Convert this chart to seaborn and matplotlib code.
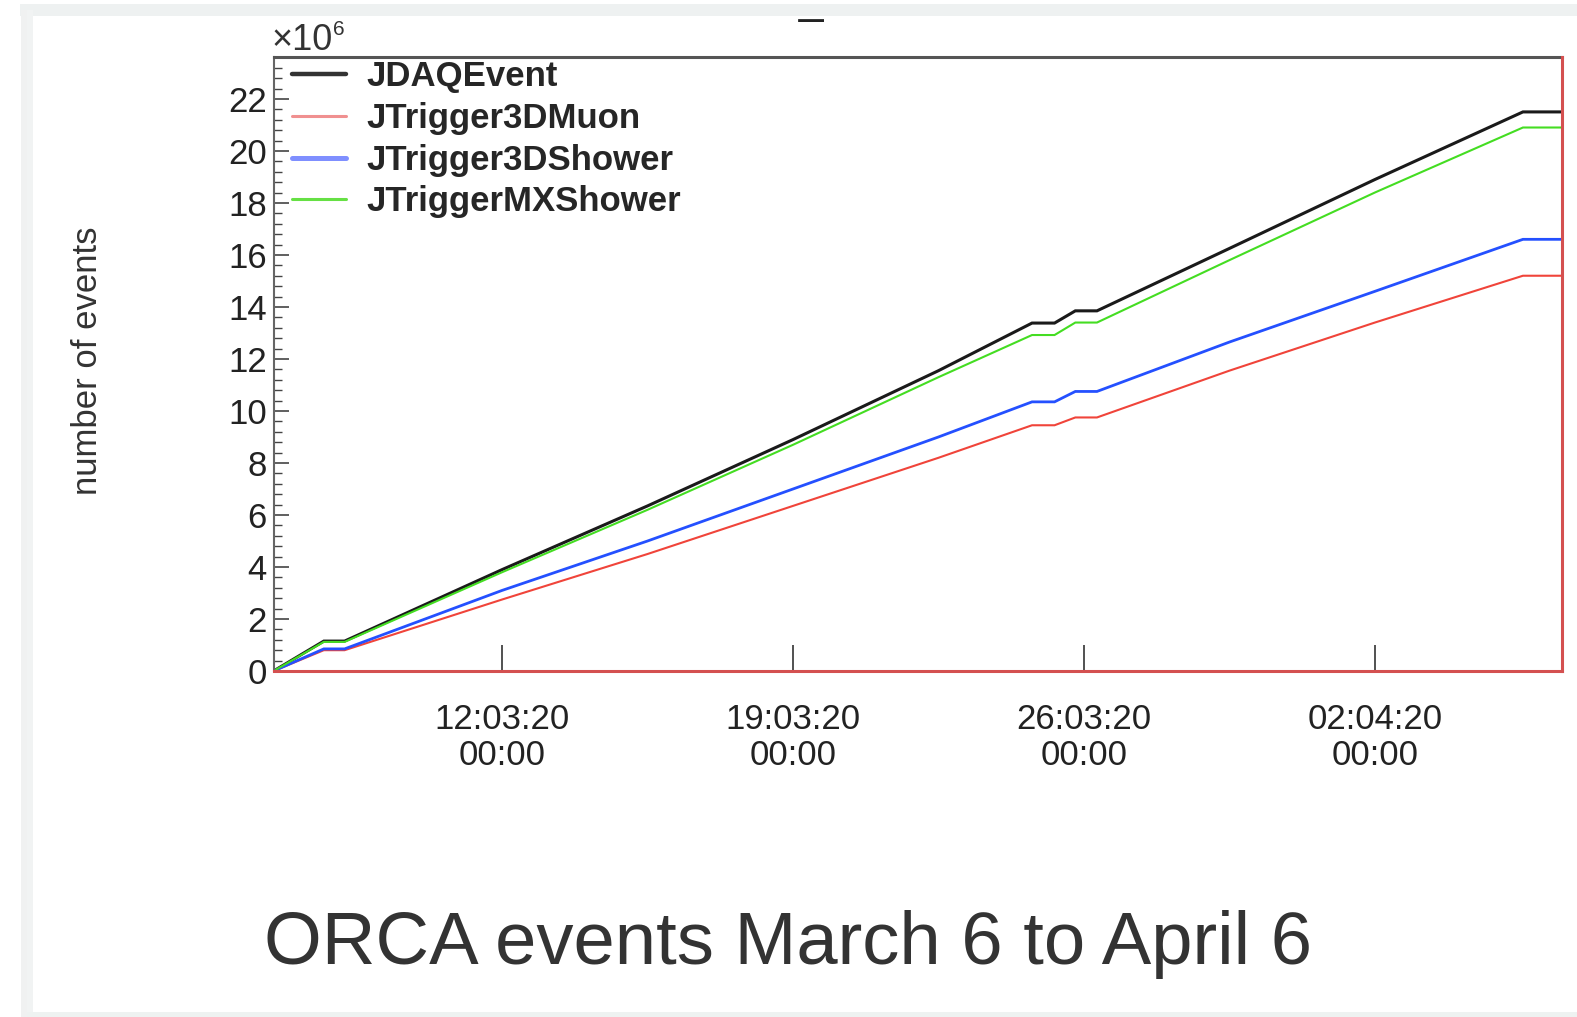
#!/usr/bin/env python3
"""ORCA cumulative event counts, 6 March to 6 April 2020 (ROOT-style plot in a screenshot card)."""

import seaborn as sns
import pandas as pd
import matplotlib.pyplot as plt
import matplotlib.dates as mdates
from matplotlib.patches import Rectangle
from matplotlib.ticker import MultipleLocator

# DATA (number of events, in units of 10^6)
times = ["2020-03-06 12:00", "2020-03-07 17:00", "2020-03-08 05:00", "2020-03-12 00:00",
         "2020-03-15 12:00", "2020-03-19 00:00", "2020-03-22 12:00", "2020-03-24 18:00",
         "2020-03-25 07:00", "2020-03-25 19:00", "2020-03-26 07:30", "2020-03-29 12:00",
         "2020-04-02 00:00", "2020-04-05 13:30", "2020-04-06 12:00"]
jdaq_event = [0, 1.15, 1.15, 3.9, 6.35, 8.9, 11.55, 13.38, 13.38, 13.85, 13.85, 16.25, 18.9, 21.5, 21.5]
trig_3d_muon = [0, 0.8, 0.8, 2.75, 4.5, 6.35, 8.2, 9.45, 9.45, 9.75, 9.75, 11.55, 13.4, 15.2, 15.2]
trig_3d_shower = [0, 0.85, 0.85, 3.1, 5.0, 7.0, 9.0, 10.35, 10.35, 10.75, 10.75, 12.65, 14.6, 16.6, 16.6]
trig_mx_shower = [0, 1.12, 1.12, 3.8, 6.2, 8.7, 11.3, 12.92, 12.92, 13.4, 13.4, 15.8, 18.4, 20.9, 20.9]

series_names = ["JDAQEvent", "JTrigger3DMuon", "JTrigger3DShower", "JTriggerMXShower"]
x_ticks = ["2020-03-12", "2020-03-19", "2020-03-26", "2020-04-02"]

# colours / widths per series
colors = {"JDAQEvent": "#1a1a1a", "JTrigger3DMuon": "#f0443a",
          "JTrigger3DShower": "#2450ff", "JTriggerMXShower": "#44dd22"}
widths = {"JDAQEvent": 2.2, "JTrigger3DMuon": 1.5, "JTrigger3DShower": 2.0, "JTriggerMXShower": 1.5}
legend_colors = {"JDAQEvent": "#333333", "JTrigger3DMuon": "#f09090",
                 "JTrigger3DShower": "#7f8fff", "JTriggerMXShower": "#66e044"}
legend_widths = {"JDAQEvent": 3.2, "JTrigger3DMuon": 2.2, "JTrigger3DShower": 3.6, "JTriggerMXShower": 2.2}

# long table for seaborn
frames = []
for name, vals in zip(series_names, [jdaq_event, trig_3d_muon, trig_3d_shower, trig_mx_shower]):
    frames.append(pd.DataFrame({"time": pd.to_datetime(times), "events": vals, "series": name}))
df = pd.concat(frames, ignore_index=True)

# THEME
sns.set_theme(style="ticks")
plt.rcParams["font.family"] = ["Liberation Sans", "DejaVu Sans"]

W, H = 1577, 1017
fig = plt.figure(figsize=(W / 100, H / 100), dpi=100)
fig.patch.set_facecolor("white")


def fx(px):
    return px / W


def fy(py):
    return 1 - py / H


ax = fig.add_axes([fx(273.6), fy(671), fx(1561.9) - fx(273.6), fy(57.3) - fy(671)])

sns.lineplot(data=df, x="time", y="events", hue="series", hue_order=series_names,
             palette=colors, estimator=None, ax=ax, legend=True)
for line, name in zip(ax.lines, series_names):
    line.set_linewidth(widths[name])
    line.set_solid_joinstyle("miter")

ax.set_xlim(pd.Timestamp("2020-03-06 12:00"), pd.Timestamp("2020-04-06 12:00"))
ax.set_ylim(0, 23.6)
ax.set_xlabel("")
ax.set_ylabel("")

# axes ticks
ax.set_xticks(pd.to_datetime(x_ticks))
ax.xaxis.set_major_formatter(mdates.DateFormatter("%d:%m:%y\n%H:%M"))
ax.yaxis.set_major_locator(MultipleLocator(2))
ax.yaxis.set_minor_locator(MultipleLocator(0.4))
ax.tick_params(axis="x", direction="in", length=19, width=1.2, color="#333333",
               labelsize=25, labelcolor="#222222", pad=23)
ax.tick_params(axis="y", which="major", direction="in", length=11, width=1.2, color="#444444",
               labelsize=25, labelcolor="#222222", pad=5)
ax.tick_params(axis="y", which="minor", direction="in", length=6, width=1.0, color="#444444")
for lab in ax.get_xticklabels():
    lab.set_linespacing(1.12)

# frame
ax.spines["top"].set_color("#555555")
ax.spines["top"].set_linewidth(2.2)
ax.spines["left"].set_color("#666666")
ax.spines["left"].set_linewidth(1.5)
for side in ["bottom", "right"]:
    ax.spines[side].set_color("#d45050")
    ax.spines[side].set_linewidth(2.2)
    ax.spines[side].set_zorder(5)

# legend
handles, labels = ax.get_legend_handles_labels()
for h, lab in zip(handles, labels):
    h.set_color(legend_colors[lab])
    h.set_linewidth(legend_widths[lab])
ax.legend(handles, labels, loc="upper left", bbox_to_anchor=(0.0143, 0.995), frameon=False,
          borderpad=0, borderaxespad=0, handlelength=1.55, handletextpad=0.6, labelspacing=0.25,
          prop={"size": 25, "weight": "bold"})

# texts around the axes
fig.text(fx(272), fy(50), "\u00d710", fontsize=26, color="#333333", ha="left", va="baseline")
fig.text(fx(333), fy(35), "6", fontsize=15, color="#333333", ha="left", va="baseline")
fig.text(fx(87.5), fy(361), "number of events", rotation=90, fontsize=25, color="#333333",
         ha="center", va="center")
fig.text(fx(264.5), fy(963.6), "ORCA events March 6 to April 6", fontsize=53.5, color="#333333",
         ha="left", va="baseline")

# plot title, cut off by the top edge of the screenshot card
fig.text(fx(775), fy(12.5), "h_events", fontsize=32, color="#222222", ha="left", va="baseline", zorder=1)

# screenshot card border
fig.patches.append(Rectangle((0, fy(10)), 1, 1 - fy(10), transform=fig.transFigure,
                             facecolor="white", edgecolor="none", zorder=20))
fig.patches.append(Rectangle((fx(20), fy(16)), 1, fy(4) - fy(16), transform=fig.transFigure,
                             facecolor="#eef1f1", edgecolor="none", zorder=21))
fig.patches.append(Rectangle((fx(21), 0), fx(6), fy(10), transform=fig.transFigure,
                             facecolor="#f0f1f1", edgecolor="none", zorder=21))
fig.patches.append(Rectangle((fx(27), 0), fx(6), fy(10), transform=fig.transFigure,
                             facecolor="#f1f3f3", edgecolor="none", zorder=21))
fig.patches.append(Rectangle((fx(27), 0), 1, fy(1012), transform=fig.transFigure,
                             facecolor="#eef2f1", edgecolor="none", zorder=21))

fig.savefig("out.png", dpi=100, facecolor="white")
